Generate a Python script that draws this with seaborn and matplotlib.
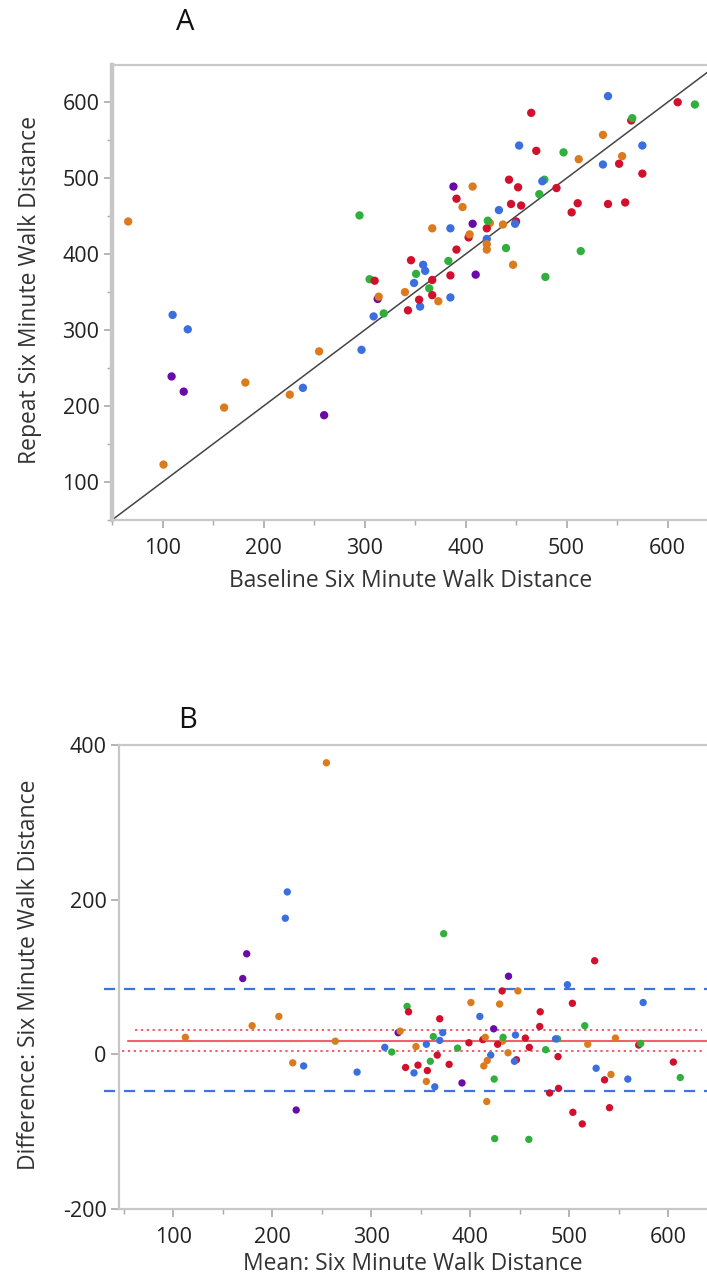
import numpy as np
import pandas as pd
import matplotlib
matplotlib.use("Agg")
import matplotlib.pyplot as plt
import seaborn as sns

# ---- data (baseline, repeat) per colour group ----
blue_baseline = [110, 125, 239, 297, 309, 349, 355, 358, 360, 385, 385, 421, 433, 449, 453, 476, 536, 541, 575]
blue_repeat   = [320, 301, 224, 274, 318, 362, 331, 386, 378, 343, 434, 420, 458, 440, 543, 496, 518, 608, 543]

orange_baseline = [66, 101, 161, 182, 226, 255, 314, 340, 367, 373, 397, 404, 407, 421, 421, 424, 437, 447, 512, 536, 555]
orange_repeat   = [443, 123, 198, 231, 215, 272, 344, 350, 434, 338, 462, 426, 489, 413, 406, 441, 439, 386, 525, 557, 529]

red_baseline = [310, 343, 346, 354, 367, 367, 385, 391, 391, 403, 421, 443, 445, 450, 452, 455, 465, 470, 490, 505, 511, 541, 552, 558, 564, 575, 610]
red_repeat   = [365, 326, 392, 340, 366, 346, 372, 406, 473, 422, 434, 498, 466, 443, 488, 464, 586, 536, 487, 455, 467, 466, 519, 468, 576, 506, 600]

green_baseline = [295, 305, 319, 351, 364, 383, 422, 440, 473, 478, 479, 497, 514, 565, 627]
green_repeat   = [451, 367, 322, 374, 355, 391, 444, 408, 479, 498, 370, 534, 404, 579, 597]

purple_baseline = [109, 121, 260, 313, 388, 407, 410]
purple_repeat   = [239, 219, 188, 341, 489, 440, 373]

group_names = ["blue", "orange", "red", "green", "purple"]
group_colors = ["#3b6fe0", "#dc7a1e", "#d0102c", "#2fb03c", "#6a0aa8"]

# Bland-Altman summary lines
mean_difference = 17.5
mean_ci = [4, 32]
limits_of_agreement = [85, -48]

x_ticks = [100, 200, 300, 400, 500, 600]
y_ticks_a = [100, 200, 300, 400, 500, 600]
y_ticks_b = [-200, 0, 200, 400]

# ---- build table ----
frames = []
for name, b, r in zip(group_names,
                      [blue_baseline, orange_baseline, red_baseline, green_baseline, purple_baseline],
                      [blue_repeat, orange_repeat, red_repeat, green_repeat, purple_repeat]):
    frames.append(pd.DataFrame({"baseline": b, "repeat": r, "group": name}))
df = pd.concat(frames, ignore_index=True)
# Bland-Altman coordinates of the same subjects
df["mean"] = (df["baseline"] + df["repeat"]) / 2
df["diff"] = df["repeat"] - df["baseline"]
# interleave draw order
df = df.sample(frac=1.0, random_state=3).reset_index(drop=True)

palette = dict(zip(group_names, group_colors))

sns.set_style("white")
plt.rcParams["font.family"] = ["Open Sans", "DejaVu Sans"]
plt.rcParams["axes.unicode_minus"] = False

W, H = 707, 1278
fig = plt.figure(figsize=(W / 100, H / 100), dpi=100)

def frac_axes(left, top, right, bottom):
    return fig.add_axes([left / W, 1 - bottom / H, (right - left) / W, (bottom - top) / H])

ax_a = frac_axes(112, 65, 707, 520)
ax_b = frac_axes(119, 745, 707, 1209)

tick_color = "#a8a8a8"
label_color = "#333333"
LABEL_FS = 16.5
TICK_FS = 15.5

# ---- panel A ----
ax_a.plot([0, 700], [0, 700], color="#444444", lw=1.1, zorder=1)
sns.scatterplot(data=df, x="baseline", y="repeat", hue="group", palette=palette,
                s=36, edgecolor="none", linewidth=0, legend=False, ax=ax_a, zorder=3)
ax_a.set_xlim(50, 639)
ax_a.set_ylim(50, 649)
ax_a.set_xticks(x_ticks)
ax_a.set_yticks(y_ticks_a)
ax_a.set_xticks(np.arange(50, 640, 50), minor=True)
ax_a.set_yticks(np.arange(50, 650, 50), minor=True)
ax_a.set_xlabel("Baseline Six Minute Walk Distance", fontsize=LABEL_FS, color=label_color)
ax_a.set_ylabel("Repeat Six Minute Walk Distance", fontsize=LABEL_FS, color=label_color)
ax_a.xaxis.set_label_coords(0.5025, -0.108)
ax_a.yaxis.set_label_coords(-0.118, 0.505)

# ---- panel B ----
sns.scatterplot(data=df, x="mean", y="diff", hue="group", palette=palette,
                s=28, edgecolor="none", linewidth=0, legend=False, ax=ax_b, zorder=3)
for v in limits_of_agreement:
    ax_b.plot([30, 639], [v, v], color="#3f74d8", lw=1.6, dashes=(5, 4), zorder=2, clip_on=False)
ax_b.plot([54, 639], [mean_difference] * 2, color="#f0606e", lw=1.5, zorder=2)
ax_b.plot([61, 634], [mean_ci[1]] * 2, color="#f0606e", lw=1.4, dashes=(1.2, 1.8), zorder=2)
ax_b.plot([48, 634], [mean_ci[0]] * 2, color="#f0606e", lw=1.4, dashes=(1.2, 1.8), zorder=2)
ax_b.set_xlim(45, 639)
ax_b.set_ylim(-200, 400)
ax_b.set_xticks(x_ticks)
ax_b.set_yticks(y_ticks_b)
ax_b.set_xticks(np.arange(50, 640, 50), minor=True)
ax_b.set_xlabel("Mean: Six Minute Walk Distance", fontsize=LABEL_FS, color=label_color)
ax_b.set_ylabel("Difference: Six Minute Walk Distance", fontsize=LABEL_FS, color=label_color)
ax_b.xaxis.set_label_coords(0.5, -0.092)
ax_b.yaxis.set_label_coords(-0.132, 0.504)

for ax, lw_left in [(ax_a, 3.2), (ax_b, 1.6)]:
    ax.spines["right"].set_visible(False)
    ax.spines["left"].set_linewidth(lw_left)
    ax.spines["left"].set_color("#c6c6c6")
    for s in ["top", "bottom"]:
        ax.spines[s].set_linewidth(1.6)
        ax.spines[s].set_color("#c8c8c8")
    ax.tick_params(axis="both", which="major", length=6, width=1.2, color=tick_color,
                   labelsize=TICK_FS, labelcolor="#222222", direction="out", pad=3,
                   bottom=True, left=True)
    ax.tick_params(axis="x", which="major", pad=7)
    ax.tick_params(axis="both", which="minor", length=3.5, width=1.0, color=tick_color,
                   direction="out", bottom=True, left=True)
    ax.set_facecolor("white")

fig.text(185 / W, 1 - 22 / H, "A", fontsize=21, ha="center", va="center", color="#111111")
fig.text(188 / W, 1 - 720 / H, "B", fontsize=21, ha="center", va="center", color="#111111")

fig.savefig("out.png", dpi=100, facecolor="white")
